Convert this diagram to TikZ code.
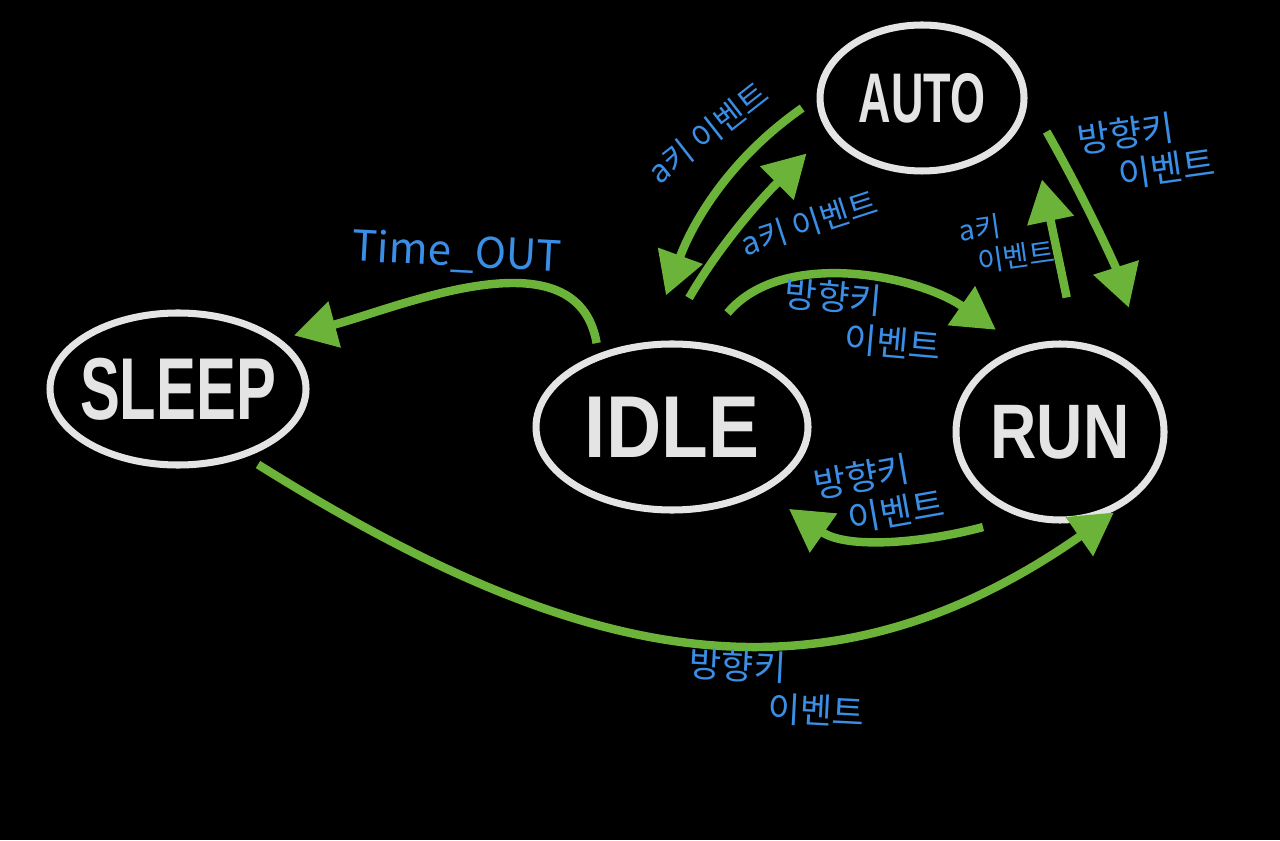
\documentclass[tikz,border=0pt]{standalone}
\usepackage{fontspec}
\setmainfont{Liberation Sans}
\newfontfamily\kr{Noto Sans CJK KR}
\usepackage{tikz}
\usetikzlibrary{
  arrows.meta,
  shapes.geometric
}
\definecolor{chalkwhite}{HTML}{E4E4E4}
\definecolor{chalkgreen}{HTML}{6BB339}
\definecolor{chalkblue}{HTML}{3A8EE6}
\definecolor{board}{HTML}{000000}
\newcommand{\chalkname}[3]{\fontsize{#1}{#1}\selectfont\scalebox{#2}[1]{#3}}
\tikzset{
  statebox/.style 2 args={
    ellipse, draw=chalkwhite, line width=2pt, inner sep=0pt,
    minimum width=#1, minimum height=#2
  },
  statelabel/.style={
    font=\bfseries, text=chalkwhite
  },
  transarrow/.style={
    -{Triangle[length=12pt,width=13pt]}, line width=2.4pt, color=chalkgreen
  },
  evtlabel/.style={
    font=\kr\fontsize{10}{11.5}\selectfont, text=chalkblue,
    align=left, inner sep=1pt
  },
}

\begin{document}
\begin{tikzpicture}
  \useasboundingbox (0,0) rectangle (12.8,8.4);
  \fill[board] (0,0) rectangle (12.8,8.4);

  %% States
  \node[statebox={2.56cm}{1.52cm},
    label={[statelabel]center:\chalkname{25}{0.68}{SLEEP}}] (sleep) at (1.78,4.51) {};
  \node[statebox={2.72cm}{1.66cm},
    label={[statelabel]center:\chalkname{25}{0.87}{IDLE}}] (idle) at (6.72,4.13) {};
  \node[statebox={2.04cm}{1.46cm},
    label={[statelabel]center:\chalkname{20}{0.64}{AUTO}}] (auto) at (9.22,7.42) {};
  \node[statebox={2.08cm}{1.76cm},
    label={[statelabel]center:\chalkname{22}{0.83}{RUN}}] (run) at (10.60,4.08) {};

  %% Transitions
  \draw[transarrow, shorten <=3pt, shorten >=4pt] (idle.135) to[out=100, in=15] (sleep.26);
  \draw[transarrow, shorten <=5pt, shorten >=14pt] (auto.west) to[out=215, in=70] (idle.105);
  \draw[transarrow, shorten <=14pt, shorten >=8.5pt] (idle.95) to[out=60, in=225] (auto.200);
  \draw[transarrow, shorten <=11pt, shorten >=8.5pt] (idle.70) to[out=50, in=145] (run.115);
  \draw[transarrow, shorten <=12.8pt, shorten >=21pt] (run.80) -- (auto.-5);
  \draw[transarrow, shorten <=11pt, shorten >=24pt] (auto.east) to[bend left=6] (run.25);
  \draw[transarrow, shorten <=11pt, shorten >=8.5pt] (run.245) to[out=195, in=-35] (idle.-35);
  \draw[transarrow, shorten <=4pt, shorten >=3pt] (sleep.-45) to[out=-32, in=-145, looseness=1.1] (run.-50);

  %% Event labels
  \node[evtlabel, font=\kr\fontsize{12}{14}\selectfont, rotate=-3] (lbltimeout) at (4.57,5.87) {Time\_OUT};
  \node[evtlabel, font=\kr\fontsize{9}{10}\selectfont, rotate=38] (lblautoidle) at (7.08,7.07) {a키 이벤트};
  \node[evtlabel, font=\kr\fontsize{9}{10}\selectfont, rotate=18] (lblidleauto) at (8.09,6.17) {a키 이벤트};
  \node[evtlabel, rotate=-5] (lblidlerun) at (8.63,5.20) {방향키\\\hspace*{1.8em}이벤트};
  \node[evtlabel, font=\kr\fontsize{8}{9.5}\selectfont, rotate=8] (lblrunauto) at (10.07,5.99) {a키\\\hspace*{0.5em}이벤트};
  \node[evtlabel, rotate=8] (lblautorun) at (11.46,6.89) {방향키\\\hspace*{1em}이벤트};
  \node[evtlabel, rotate=10] (lblrunidle) at (8.79,3.46) {방향키\\\hspace*{0.8em}이벤트};
  \node[evtlabel, rotate=-3] (lblsleeprun) at (7.77,1.52) {방향키\\\hspace*{2.3em}이벤트};
\end{tikzpicture}
\end{document}
